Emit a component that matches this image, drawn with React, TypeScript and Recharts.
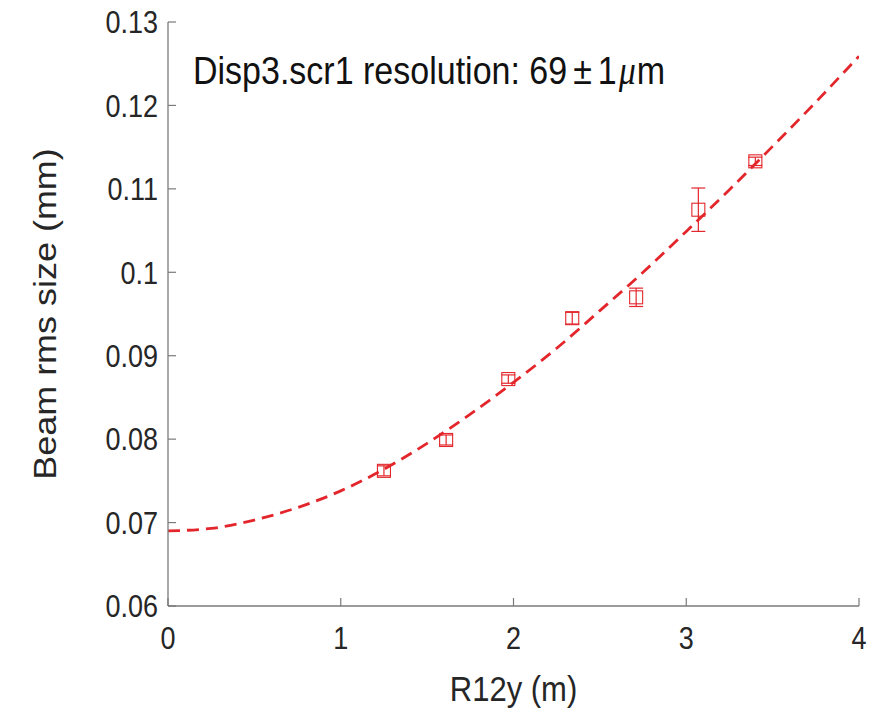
import React from 'react';
import { ComposedChart, Line, Scatter, XAxis, YAxis, ErrorBar } from 'recharts';

const measR12 = [1.25, 1.61, 1.97, 2.34, 2.71, 3.07, 3.40];
const measSize = [0.0762, 0.0799, 0.0872, 0.0945, 0.0970, 0.1075, 0.1133];
const measErr = [0.0006, 0.0006, 0.0005, 0.0007, 0.0011, 0.0026, 0.0005];

const fitR12 = [0, 0.25, 0.5, 0.75, 1.0, 1.25, 1.5, 1.75, 2.0, 2.25, 2.5, 2.75, 3.0, 3.25, 3.5, 3.75, 4.0];
const fitSize = [0.0690, 0.0693, 0.0703, 0.0718, 0.0738, 0.0764, 0.0795, 0.0830, 0.0868, 0.0909, 0.0954, 0.1000, 0.1049, 0.1099, 0.1151, 0.1204, 0.1259];

const xTicks = [0, 1, 2, 3, 4];
const yTicks = [0.06, 0.07, 0.08, 0.09, 0.1, 0.11, 0.12, 0.13];

const xLabel = 'R12y (m)';
const yLabel = 'Beam rms size (mm)';
const annotationMain = 'Disp3.scr1 resolution: 69';
const annotationErr = '1';

const measData = measR12.map((x, i) => ({ x, y: measSize[i], err: measErr[i] }));
const fitData = fitR12.map((x, i) => ({ x, y: fitSize[i] }));

const FONT = '"Liberation Sans", Arial, Helvetica, sans-serif';
const AXIS = '#7a7a7a';
const TEXT = '#262626';
const RED = '#e3262b';
const TL = 8;
const S = 1.16; // vertical stretch of glyphs in the reference

const fmtY = (v: number) => String(Number(v.toFixed(2)));

const BottomTick = (props: any) => {
  const { x, y, payload } = props;
  const ay = y - 20;
  return (
    <g>
      <line x1={x} x2={x} y1={ay} y2={ay - TL} stroke={AXIS} strokeWidth={1.2} />
      <text
        transform={`translate(${x},${y}) scale(1,${S})`}
        x={0}
        y={0}
        dy="0.72em"
        textAnchor="middle"
        fill={TEXT}
        fontSize={27}
        fontFamily={FONT}
      >
        {payload.value}
      </text>
    </g>
  );
};

const LeftTick = (props: any) => {
  const { x, y, payload } = props;
  const ax = x + 10;
  return (
    <g>
      <line x1={ax} x2={ax + TL} y1={y} y2={y} stroke={AXIS} strokeWidth={1.2} />
      <text
        transform={`translate(${x},${y}) scale(1,${S})`}
        x={0}
        y={0}
        dy="0.36em"
        textAnchor="end"
        fill={TEXT}
        fontSize={27}
        fontFamily={FONT}
      >
        {fmtY(payload.value)}
      </text>
    </g>
  );
};

const TopTick = (props: any) => {
  const { x, y } = props;
  return <line x1={x} x2={x} y1={y} y2={y + TL} stroke={AXIS} strokeWidth={1.2} />;
};

const RightTick = (props: any) => {
  const { x, y } = props;
  return <line x1={x} x2={x - TL} y1={y} y2={y} stroke={AXIS} strokeWidth={1.2} />;
};

const XLabelContent = (props: any) => {
  const vb = props.viewBox || {};
  const cx = (vb.x || 0) + (vb.width || 0) / 2;
  const cy = (vb.y || 0) + 82;
  return (
    <text
      transform={`translate(${cx},${cy}) scale(1,${S})`}
      x={0}
      y={0}
      dy="0.36em"
      textAnchor="middle"
      fill={TEXT}
      fontSize={31}
      fontFamily={FONT}
    >
      {xLabel}
    </text>
  );
};

const YLabelContent = (props: any) => {
  const vb = props.viewBox || {};
  const cy = (vb.y || 0) + (vb.height || 0) / 2;
  return (
    <text
      transform={`translate(45,${cy}) rotate(-90) scale(${S},1)`}
      x={0}
      y={0}
      dy="0.36em"
      textAnchor="middle"
      fill={TEXT}
      fontSize={31}
      fontFamily={FONT}
    >
      {yLabel}
    </text>
  );
};

const SquareMarker = (props: any) => {
  const { cx, cy } = props;
  if (cx == null || cy == null) return null;
  return <rect x={cx - 6.5} y={cy - 6.5} width={13} height={13} fill="none" stroke={RED} strokeWidth={1.1} />;
};

export default function App() {
  return (
    <div style={{ position: 'absolute', left: 0, top: 0, width: 887, height: 714, background: '#fff' }}>
      <ComposedChart
        width={887}
        height={714}
        margin={{ top: 22, right: 28, bottom: 0, left: 0 }}
      >
        <XAxis
          xAxisId="b"
          type="number"
          dataKey="x"
          domain={[0, 4]}
          ticks={xTicks}
          orientation="bottom"
          height={108}
          tickSize={0}
          tickMargin={20}
          tick={<BottomTick />}
          tickLine={false}
          axisLine={{ stroke: AXIS, strokeWidth: 1.3 }}
          allowDataOverflow
          label={<XLabelContent />}
        />
        <XAxis
          xAxisId="t"
          type="number"
          dataKey="x"
          domain={[0, 4]}
          ticks={xTicks}
          orientation="top"
          height={0}
          tickSize={0}
          tickMargin={0}
          tick={<TopTick />}
          tickLine={false}
          axisLine={{ stroke: AXIS, strokeWidth: 1.3 }}
          allowDataOverflow
        />
        <YAxis
          yAxisId="l"
          type="number"
          domain={[0.06, 0.13]}
          ticks={yTicks}
          orientation="left"
          width={168}
          tickSize={0}
          tickMargin={10}
          tick={<LeftTick />}
          tickLine={false}
          axisLine={{ stroke: AXIS, strokeWidth: 1.3 }}
          allowDataOverflow
          label={<YLabelContent />}
        />
        <YAxis
          yAxisId="r"
          type="number"
          domain={[0.06, 0.13]}
          ticks={yTicks}
          orientation="right"
          width={0}
          tickSize={0}
          tickMargin={0}
          tick={<RightTick />}
          tickLine={false}
          axisLine={{ stroke: AXIS, strokeWidth: 1.3 }}
          allowDataOverflow
        />
        <Line
          xAxisId="b"
          yAxisId="l"
          data={fitData}
          dataKey="y"
          type="monotone"
          stroke={RED}
          strokeWidth={2.8}
          strokeDasharray="12 7"
          dot={false}
          activeDot={false}
          isAnimationActive={false}
        />
        <Scatter
          xAxisId="b"
          yAxisId="l"
          data={measData}
          dataKey="y"
          shape={<SquareMarker />}
          isAnimationActive={false}
        >
          <ErrorBar dataKey="err" direction="y" width={7} stroke={RED} strokeWidth={1.2} isAnimationActive={false} />
        </Scatter>
      </ComposedChart>
      <div
        style={{
          position: 'absolute',
          left: 193,
          top: 51,
          fontFamily: FONT,
          fontSize: 34,
          lineHeight: '38px',
          color: '#111',
          whiteSpace: 'nowrap',
          transform: `scale(1, ${S})`,
          transformOrigin: 'left center',
        }}
      >
        {annotationMain}
        <span style={{ margin: '0 6px' }}>{'\u00b1'}</span>
        {annotationErr}
        <span style={{ fontFamily: '"Liberation Serif", "Times New Roman", serif', fontStyle: 'italic', margin: '0 1px 0 2px' }}>{'\u03bc'}</span>
        m
      </div>
    </div>
  );
}
